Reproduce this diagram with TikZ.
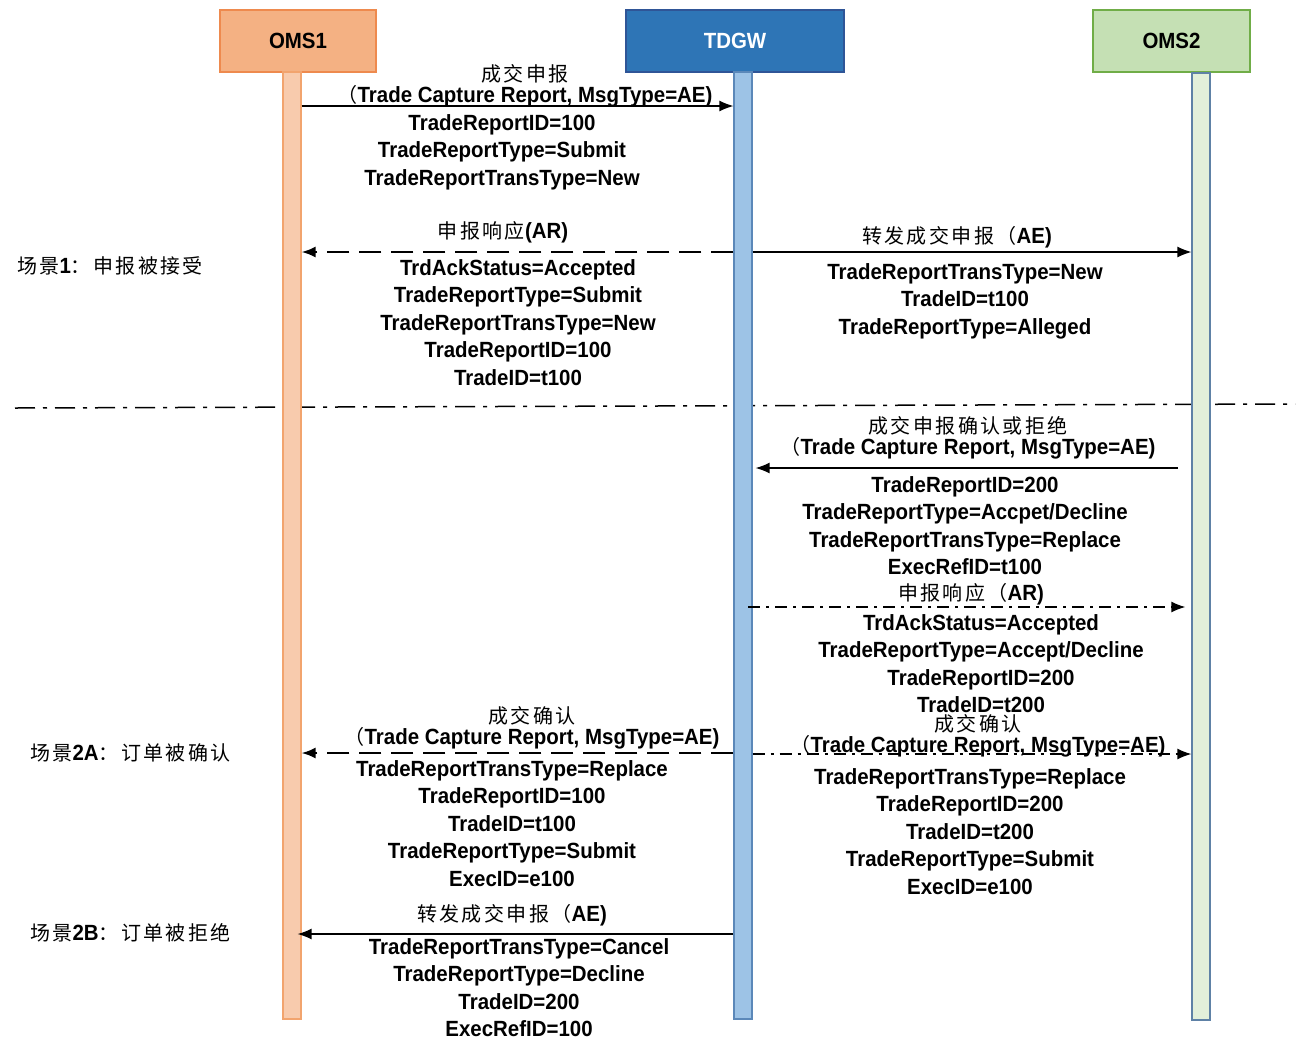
\documentclass[tikz,border=0pt]{standalone}
\usepackage{fontspec}
\usepackage{xcolor}
\setmainfont[FakeStretch=0.93]{Liberation Sans}
\newfontfamily\cjk[LetterSpace=12]{Noto Sans CJK SC}
\usepackage{tikz}
\usetikzlibrary{arrows.meta,positioning}
\definecolor{omsonefill}{HTML}{F4B183}
\definecolor{omsoneline}{HTML}{EE8A4E}
\definecolor{omsonelife}{HTML}{F8CBAD}
\definecolor{omsonelifeline}{HTML}{F2A46E}
\definecolor{tdgwfill}{HTML}{2E75B6}
\definecolor{tdgwline}{HTML}{2F5597}
\definecolor{tdgwlife}{HTML}{9DC3E6}
\definecolor{tdgwlifeline}{HTML}{5B88B9}
\definecolor{omstwofill}{HTML}{C5E0B4}
\definecolor{omstwoline}{HTML}{70AD47}
\definecolor{omstwolife}{HTML}{E2EFDA}
\definecolor{omstwolifeline}{HTML}{5E81A6}
\newcommand\msgfont{\fontsize{22}{27.6}\selectfont\bfseries}
\newcommand\zh[1]{{\cjk\mdseries\fontsize{20}{27.6}\selectfont #1}}
\tikzset{%
	actor/.style    = {draw, rectangle, line width=1.2pt, minimum height=62pt, font=\msgfont, text centered},
	lifeline/.style = {draw, rectangle, line width=1.2pt, minimum width=18pt, inner sep=0pt},
	msg/.style      = {line width=1.3pt, -{Latex[length=14pt,width=11pt]}},
	msgdash/.style  = {msg, line width=2pt, dash pattern=on 22pt off 10pt},
	msgdot/.style   = {msg, line width=1.5pt, dash pattern=on 12pt off 6pt on 3pt off 6pt},
	title/.style    = {font=\msgfont, align=center, inner sep=0pt},
	fields/.style   = {font=\msgfont, align=center, inner sep=0pt, anchor=north},
	scene/.style    = {font=\msgfont, anchor=west, inner sep=0pt},
	divider/.style  = {line width=1.5pt, dash pattern=on 20pt off 8pt on 4pt off 8pt},
}
\begin{document}
\begin{tikzpicture}[x=1pt,y=-1pt]
	\useasboundingbox (0,0) rectangle (1300,1042);
	\draw[divider] (15,408) -- (1295,404);  % scene divider
	% actors
	\node[actor, fill=omsonefill, draw=omsoneline, minimum width=156pt] (oms1) at (298,41) {OMS1};
	\node[actor, fill=tdgwfill, draw=tdgwline, minimum width=218pt, text=white] (tdgw) at (735,41) {TDGW};
	\node[actor, fill=omstwofill, draw=omstwoline, minimum width=157pt] (oms2) at (1171.5,41) {OMS2};
	% lifelines
	\node[lifeline, fill=omsonelife, draw=omsonelifeline, minimum height=947pt] (l1) at (292,545.5) {};
	\node[lifeline, fill=tdgwlife, draw=tdgwlifeline, minimum height=947pt] (l2) at (743,545.5) {};
	\node[lifeline, fill=omstwolife, draw=omstwolifeline, minimum height=947pt] (l3) at (1201,546.5) {};
	% message rows
	\coordinate (r1) at (0,106);
	\coordinate (r2) at (0,252);
	\coordinate (r5) at (1178,468);
	\coordinate (r6) at (748,607);
	\coordinate (r7) at (0,753);
	\coordinate (r8) at (0,754);
	\coordinate (r9) at (0,934);
	\draw[msg] (l1.east |- r1) -- (l2.west |- r1);
	\draw[msgdash] (l2.west |- r2) -- (l1.east |- r2);
	\draw[msg] (l2.east |- r2) -- (l3.west |- r2);
	\draw[msg, shorten >=3pt] (r5) -- (l2.east |- r5);
	\draw[msgdot, shorten >=6pt] (r6) -- (l3.west |- r6);
	\draw[msgdash] (l2.west |- r7) -- (l1.east |- r7);
	\draw[msgdot] (l2.east |- r8) -- (l3.west |- r8);
	\draw[msg, shorten >=-4pt] (l2.west |- r9) -- (l1.east |- r9);
	% labels
	\node[title] (t1) at (525,86) {\zh{成交申报}\\[-7pt]\zh{（}Trade Capture Report, MsgType=AE)};
	\node[fields] (f1) at (502,114) {TradeReportID=100\\TradeReportType=Submit\\TradeReportTransType=New};
	\node[title] (t2) at (503,232) {\zh{申报响应}(AR)};
	\node[fields] (f2) at (518,259) {TrdAckStatus=Accepted\\TradeReportType=Submit\\TradeReportTransType=New\\TradeReportID=100\\TradeID=t100};
	\node[title] (t3) at (957,237) {\zh{转发成交申报（}AE)};
	\node[fields] (f3) at (965,263) {TradeReportTransType=New\\TradeID=t100\\TradeReportType=Alleged};
	\node[title] (t5) at (968,438) {\zh{成交申报确认或拒绝}\\[-7pt]\zh{（}Trade Capture Report, MsgType=AE)};
	\node[fields] (f5) at (965,476) {TradeReportID=200\\TradeReportType=Accpet/Decline\\TradeReportTransType=Replace\\ExecRefID=t100};
	\node[title] (t6) at (971,594) {\zh{申报响应（}AR)};
	\node[fields] (f6) at (981,614) {TrdAckStatus=Accepted\\TradeReportType=Accept/Decline\\TradeReportID=200\\TradeID=t200};
	\node[title] (t7) at (532,728) {\zh{成交确认}\\[-7pt]\zh{（}Trade Capture Report, MsgType=AE)};
	\node[fields] (f7) at (512,760) {TradeReportTransType=Replace\\TradeReportID=100\\TradeID=t100\\TradeReportType=Submit\\ExecID=e100};
	\node[title] (t8) at (978,736) {\zh{成交确认}\\[-7pt]\zh{（}Trade Capture Report, MsgType=AE)};
	\node[fields] (f8) at (970,768) {TradeReportTransType=Replace\\TradeReportID=200\\TradeID=t200\\TradeReportType=Submit\\ExecID=e100};
	\node[title] (t9) at (512,915) {\zh{转发成交申报（}AE)};
	\node[fields] (f9) at (519,938) {TradeReportTransType=Cancel\\TradeReportType=Decline\\TradeID=200\\ExecRefID=100};
	% scenes
	\node[scene] (s1) at (17,266) {\zh{场景}1\zh{：申报被接受}};
	\node[scene] (s2a) at (30,753) {\zh{场景}2A\zh{：订单被确认}};
	\node[scene] (s2b) at (30,933) {\zh{场景}2B\zh{：订单被拒绝}};
\end{tikzpicture}
\end{document}
